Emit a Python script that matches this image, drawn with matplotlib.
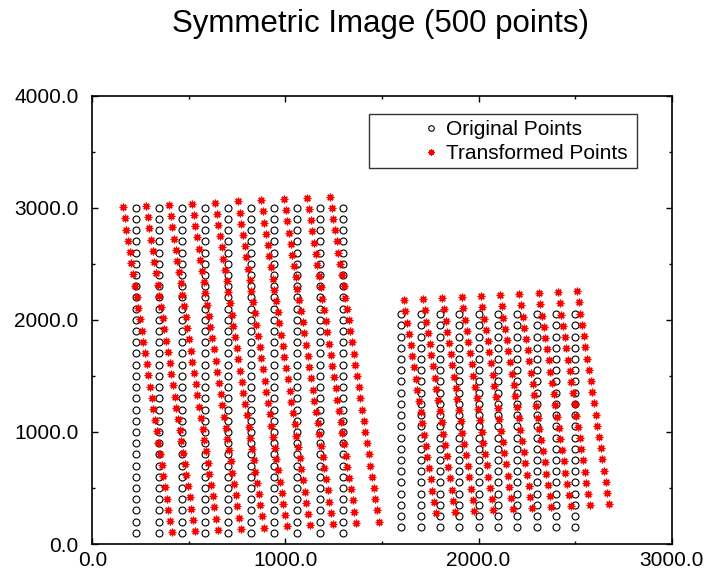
import numpy as np
import matplotlib
matplotlib.use("Agg")
import matplotlib.pyplot as plt
from matplotlib.ticker import MultipleLocator, FormatStrFormatter
from matplotlib.patches import Rectangle

plt.rcParams['font.family'] = ['Liberation Sans', 'DejaVu Sans']

# Grid of original points: two rectangular blocks
left_cols = [225, 344, 463, 583, 702, 821, 941, 1061, 1181, 1300]
left_rows = [100, 200, 300, 400, 500, 600, 700, 800, 900, 1000,
             1100, 1200, 1300, 1400, 1500, 1600, 1700, 1800, 1900, 2000,
             2100, 2200, 2300, 2400, 2500, 2600, 2700, 2800, 2900, 3000]
right_cols = [1600, 1700, 1800, 1900, 2000, 2100, 2200, 2300, 2400, 2500]
right_rows = [150, 250, 350, 450, 550, 650, 750, 850, 950, 1050,
              1150, 1250, 1350, 1450, 1550, 1650, 1750, 1850, 1950, 2050]

# Affine map that produces the transformed image of the grid
transform_matrix = [[0.997, -0.087],
                    [0.088, 1.000]]
transform_offset = [196.0, -15.0]

x_ticks = [0, 1000, 2000, 3000]
y_ticks = [0, 1000, 2000, 3000, 4000]

lx, ly = np.meshgrid(left_cols, left_rows)
rx, ry = np.meshgrid(right_cols, right_rows)
orig_x = np.concatenate([lx.ravel(), rx.ravel()]).astype(float)
orig_y = np.concatenate([ly.ravel(), ry.ravel()]).astype(float)

M = np.array(transform_matrix)
pts = M @ np.vstack([orig_x, orig_y]) + np.array(transform_offset)[:, None]
trans_x, trans_y = pts

fig = plt.figure(figsize=(7.08, 5.75), dpi=100)
ax = fig.add_axes([92.3 / 708, 1 - 544 / 575, 579.4 / 708, 448.3 / 575])

ax.plot(orig_x, orig_y, linestyle='none', marker='o', markersize=5,
        markerfacecolor='none', markeredgecolor='black', markeredgewidth=0.8,
        label='Original Points', zorder=2)
ax.plot(trans_x, trans_y, linestyle='none', marker=(8, 2, 0), markersize=5.5,
        color='red', markeredgewidth=0.9, label='Transformed Points', zorder=3)

ax.set_xlim(0, 3000)
ax.set_ylim(0, 4000)
ax.set_xticks(x_ticks)
ax.set_yticks(y_ticks)
ax.xaxis.set_minor_locator(MultipleLocator(500))
ax.yaxis.set_minor_locator(MultipleLocator(500))
ax.xaxis.set_major_formatter(FormatStrFormatter('%.1f'))
ax.yaxis.set_major_formatter(FormatStrFormatter('%.1f'))
ax.tick_params(which='both', direction='in', top=True, right=True,
               width=1.0, colors='black', labelsize=15)
ax.tick_params(which='major', length=4.5)
ax.tick_params(which='minor', length=2.5)
ax.tick_params(axis='x', pad=5)
ax.tick_params(axis='y', pad=10)
for sp in ax.spines.values():
    sp.set_linewidth(1.2)
    sp.set_color('black')

# Legend box drawn as a plain rectangle, entries placed inside it
box = Rectangle((0.478, 0.838), 0.9396 - 0.478, 0.9585 - 0.838,
                transform=ax.transAxes, facecolor='white', edgecolor='#333333',
                linewidth=1.0, zorder=4)
ax.add_patch(box)
leg = ax.legend(loc='center left', bbox_to_anchor=(0.5661, 0.8974),
                frameon=False, fontsize=15, handlelength=1.0,
                handletextpad=0.24, borderpad=0, borderaxespad=0,
                labelspacing=0.25, numpoints=1, markerscale=0.8)
leg.set_zorder(5)

fig.text(381 / 708, 1 - 31.7 / 575, 'Symmetric Image (500 points)',
         ha='center', va='baseline', fontsize=22.5)

fig.savefig('out.png', dpi=100)
